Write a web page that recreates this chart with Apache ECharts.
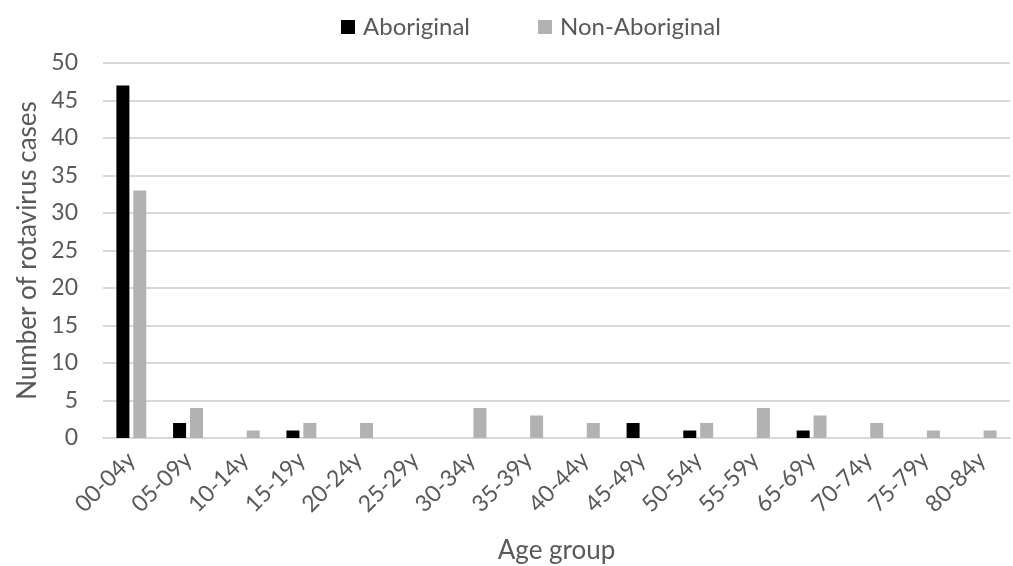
<!DOCTYPE html>
<html>
<head>
<meta charset="utf-8">
<script src="https://cdn.jsdelivr.net/npm/echarts@6/dist/echarts.min.js"></script>
<style>
  html, body { margin: 0; padding: 0; background: #fff; }
  #chart { width: 1013px; height: 566px; }
</style>
</head>
<body>
<div id="chart"></div>
<script>
const ageGroups = ['00-04y', '05-09y', '10-14y', '15-19y', '20-24y', '25-29y', '30-34y', '35-39y',
  '40-44y', '45-49y', '50-54y', '55-59y', '65-69y', '70-74y', '75-79y', '80-84y'];
const aboriginal = [47, 2, 0, 1, 0, 0, 0, 0, 0, 2, 1, 0, 1, 0, 0, 0];
const nonAboriginal = [33, 4, 1, 2, 2, 0, 4, 3, 2, 0, 2, 4, 3, 2, 1, 1];

const font = 'Lato, "Open Sans", sans-serif';
const textColor = '#595959';

const chart = echarts.init(document.getElementById('chart'));

chart.setOption({
  animation: false,
  textStyle: { fontFamily: font },
  legend: {
    top: 10,
    left: 336,
    itemWidth: 14,
    itemHeight: 14,
    itemGap: 68,
    icon: 'rect',
    textStyle: { fontSize: 24, color: textColor, fontFamily: font, padding: [0, 0, 0, 3] },
    data: ['Aboriginal', 'Non-Aboriginal'],
  },
  grid: {
    left: 103,
    right: 3,
    top: 63,
    bottom: 128,
    outerBoundsMode: 'none',
    containLabel: false,
  },
  xAxis: {
    type: 'category',
    data: ageGroups,
    name: 'Age group',
    nameLocation: 'middle',
    nameGap: 100,
    nameTextStyle: { fontSize: 26, color: textColor, fontFamily: font },
    axisLine: { lineStyle: { color: '#d9d9d9', width: 2 } },
    axisTick: { show: false },
    axisLabel: {
      interval: 0,
      rotate: 45,
      fontSize: 23,
      color: textColor,
      margin: 18,
      fontFamily: font,
    },
  },
  yAxis: {
    type: 'value',
    min: 0,
    max: 50,
    interval: 5,
    name: 'Number of rotavirus cases',
    nameLocation: 'middle',
    nameGap: 62,
    nameTextStyle: { fontSize: 26, color: textColor, fontFamily: font },
    axisLine: { show: false },
    axisTick: { show: false },
    axisLabel: { fontSize: 23, color: textColor, margin: 25, fontFamily: font },
    splitLine: { lineStyle: { color: '#d9d9d9', width: 2 } },
  },
  series: [
    {
      name: 'Aboriginal',
      type: 'bar',
      data: aboriginal,
      barWidth: 13,
      barGap: '30%',
      itemStyle: { color: '#000000' },
    },
    {
      name: 'Non-Aboriginal',
      type: 'bar',
      data: nonAboriginal,
      barWidth: 13,
      barGap: '30%',
      itemStyle: { color: '#b2b2b2' },
    },
  ],
});

window.addEventListener('resize', () => chart.resize());
</script>
</body>
</html>
